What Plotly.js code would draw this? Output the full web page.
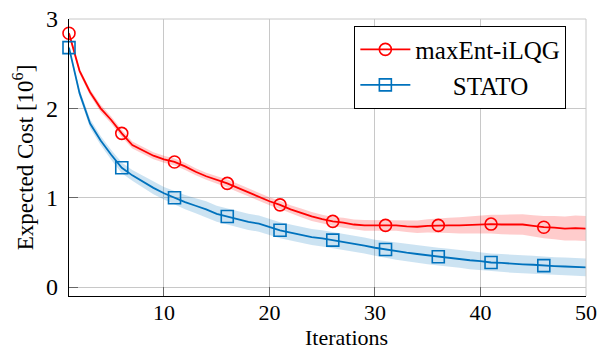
<!DOCTYPE html>
<html>
<head>
<meta charset="utf-8">
<script src="https://cdn.plot.ly/plotly-3.0.1.min.js"></script>
<style>html,body{margin:0;padding:0;background:#fff;}#chart{width:600px;height:350px;}</style>
</head>
<body>
<div id="chart"></div>
<script>
const iterations = [1,2,3,4,5,6,7,8,9,10,11,12,13,14,15,16,17,18,19,20,21,22,23,24,25,26,27,28,29,30,31,32,33,34,35,36,37,38,39,40,41,42,43,44,45,46,47,48,49,50];

const maxEntMean = [2.84,2.42,2.18,2.00,1.87,1.72,1.59,1.53,1.47,1.43,
                    1.40,1.35,1.29,1.24,1.20,1.16,1.11,1.06,1.01,0.96,
                    0.92,0.87,0.83,0.79,0.76,0.735,0.72,0.70,0.69,0.69,
                    0.69,0.69,0.68,0.675,0.685,0.69,0.69,0.69,0.695,0.70,
                    0.705,0.70,0.70,0.70,0.685,0.67,0.665,0.655,0.66,0.655];
const maxEntStd = [0.03,0.03,0.035,0.04,0.04,0.04,0.04,0.04,0.04,0.04,
                   0.04,0.04,0.04,0.04,0.04,0.045,0.045,0.045,0.045,0.045,
                   0.045,0.045,0.05,0.05,0.05,0.05,0.055,0.055,0.06,0.06,
                   0.06,0.06,0.065,0.07,0.075,0.08,0.085,0.09,0.095,0.10,
                   0.105,0.11,0.11,0.115,0.12,0.125,0.13,0.135,0.14,0.14];

const statoMean = [2.68,2.17,1.83,1.64,1.48,1.335,1.25,1.18,1.11,1.05,
                   1.00,0.95,0.91,0.87,0.82,0.79,0.76,0.73,0.71,0.67,
                   0.635,0.61,0.585,0.56,0.545,0.525,0.51,0.49,0.465,0.44,
                   0.42,0.40,0.385,0.37,0.355,0.34,0.33,0.315,0.30,0.29,
                   0.275,0.27,0.26,0.255,0.25,0.24,0.235,0.23,0.225,0.22];
const statoStd = [0.02,0.04,0.05,0.05,0.055,0.06,0.06,0.065,0.07,0.07,
                  0.075,0.08,0.085,0.09,0.09,0.09,0.09,0.09,0.09,0.09,
                  0.09,0.09,0.09,0.09,0.09,0.09,0.09,0.09,0.09,0.09,
                  0.095,0.095,0.095,0.1,0.1,0.1,0.1,0.1,0.1,0.1,
                  0.1,0.1,0.1,0.1,0.1,0.1,0.1,0.1,0.1,0.1];

const seriesNames = ['maxEnt-iLQG', '\u00A0\u00A0\u00A0\u00A0\u00A0\u00A0STATO'];
const xTitle = 'Iterations';
const yTitle = 'Expected Cost [10<sup>6</sup>]';
const xTicks = [10,20,30,40,50];
const yTicks = [0,1,2,3];
const markEvery = 5;

const RED = '#ff0000', BLUE = '#0072bd';
const FONT = 'Liberation Serif';

function band(mean, std, fill) {
  const lo = mean.map((m, i) => m - std[i]);
  const hi = mean.map((m, i) => m + std[i]);
  return [
    {x: iterations, y: lo, mode: 'lines', line: {width: 0, color: fill}, showlegend: false, hoverinfo: 'skip'},
    {x: iterations, y: hi, mode: 'lines', line: {width: 0, color: fill}, fill: 'tonexty', fillcolor: fill, showlegend: false, hoverinfo: 'skip'}
  ];
}
function mainTrace(mean, name, color, symbol) {
  const mcolors = iterations.map((_, i) => i % markEvery === 0 ? color : 'rgba(0,0,0,0)');
  return {
    x: iterations, y: mean, name: name, mode: 'lines+markers', cliponaxis: false,
    line: {color: color, width: 1.8},
    marker: {symbol: symbol, size: 12, color: mcolors, line: {width: 1.6}}
  };
}

const data = [
  ...band(maxEntMean, maxEntStd, 'rgba(255,0,0,0.2)'),
  ...band(statoMean, statoStd, 'rgba(0,114,189,0.2)'),
  mainTrace(maxEntMean, seriesNames[0], RED, 'circle-open'),
  mainTrace(statoMean, seriesNames[1], BLUE, 'square-open')
];

const layout = {
  width: 600, height: 350,
  margin: {l: 69, r: 14, t: 19, b: 54},
  paper_bgcolor: '#fff', plot_bgcolor: '#fff',
  font: {family: FONT, color: '#000', size: 22},
  xaxis: {
    range: [1, 50], tickvals: xTicks,
    showgrid: true, gridcolor: '#c8c8c8', gridwidth: 1,
    zeroline: false, showline: true, linecolor: '#000', linewidth: 1.3,
    ticks: 'inside', ticklen: 9, tickcolor: '#666', tickwidth: 1,
    tickfont: {family: FONT, size: 22, color: '#000'},
    ticklabelstandoff: -4
  },
  yaxis: {
    range: [-0.1, 3], tickvals: yTicks,
    showgrid: true, gridcolor: '#c8c8c8', gridwidth: 1,
    zeroline: false, showline: true, linecolor: '#000', linewidth: 1.3,
    ticks: 'inside', ticklen: 9, tickcolor: '#666', tickwidth: 1,
    tickfont: {family: FONT, size: 24, color: '#000'},
    ticklabelstandoff: 5,
    title: {text: yTitle, standoff: 6, font: {family: FONT, size: 23, color: '#000'}}
  },
  annotations: [
    {text: xTitle, xref: 'paper', yref: 'paper', x: 0.536, y: -0.198,
     xanchor: 'center', yanchor: 'bottom', showarrow: false, borderpad: 0,
     font: {family: FONT, size: 22, color: '#000'}}
  ],
  shapes: [
    {type: 'line', xref: 'paper', yref: 'paper', x0: 0, x1: 1, y0: 1, y1: 1, line: {color: '#c8c8c8', width: 1}},
    {type: 'line', xref: 'paper', yref: 'paper', x0: 1, x1: 1, y0: 0, y1: 1, line: {color: '#c8c8c8', width: 1}}
  ],
  legend: {
    x: 0.962, y: 0.976, xanchor: 'right', yanchor: 'top', traceorder: 'normal',
    bordercolor: '#000', borderwidth: 1, bgcolor: '#fff',
    font: {family: FONT, size: 25, color: '#000'},
    itemwidth: 50, tracegroupgap: 0
  },
  showlegend: true
};

Plotly.newPlot('chart', data, layout, {displayModeBar: false, staticPlot: true});
</script>
</body>
</html>
